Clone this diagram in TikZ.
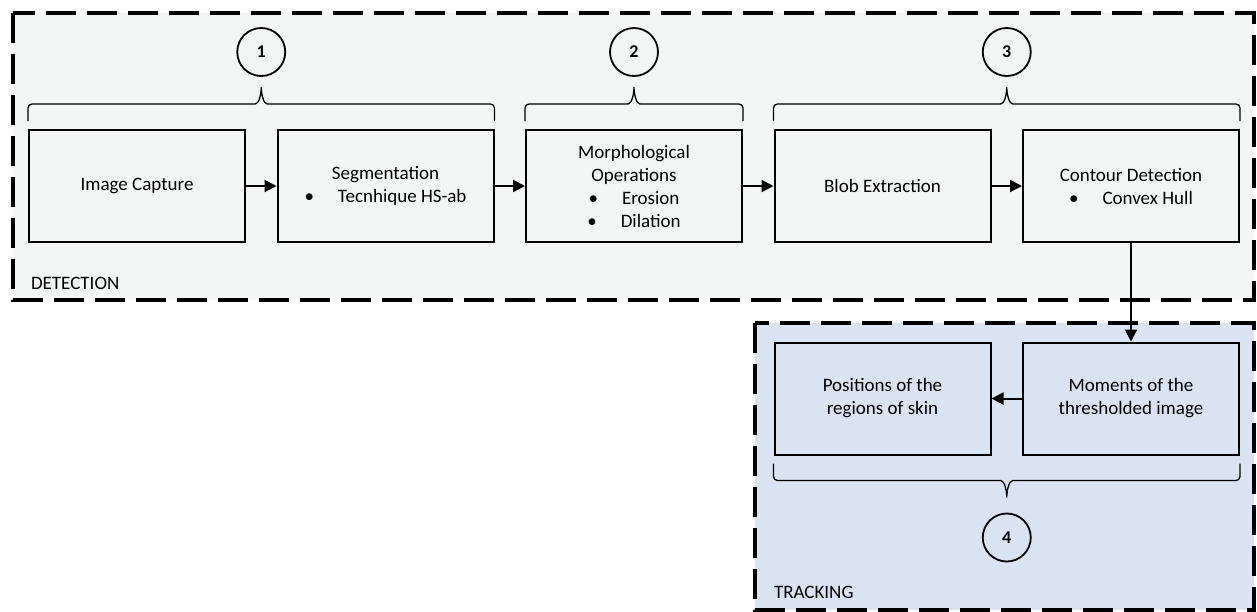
\documentclass[tikz,border=0pt]{standalone}
\usepackage{fontspec}
\setmainfont{Carlito}
\usepackage{tikz}
\usetikzlibrary{arrows.meta,calc}
\definecolor{detfill}{HTML}{F4F6F6}
\definecolor{trackfill}{HTML}{DAE3F2}

% brace over (sign 1) or under (sign -1) two anchors, tip named #4
\newcommand{\phasebrace}[4]{%
  \coordinate (#4) at ($(#1)!0.5!(#2)+(0,#3*42)$);
  \draw[bracestyle] ([yshift=#3*8pt]#1) -- ++(0,#3*13)
    arc[start angle=180,end angle=180-90*#3,radius=4pt]
    -- ($(#1)!0.5!(#2)+(-6,#3*25)$) .. controls +(4,0) and +(0,{-6*#3}) .. (#4)
    .. controls +(0,{-6*#3}) and +(-4,0) .. ($(#1)!0.5!(#2)+(6,#3*25)$)
    -- ($(#2)+(-4,#3*25)$)
    arc[start angle=180-90*#3,end angle=180-180*#3,radius=4pt]
    -- ([yshift=#3*8pt]#2);}

\begin{document}
\begin{tikzpicture}[x=1pt,y=1pt,>={Triangle[length=12pt,width=12pt]},node distance=248.5pt,
                    line width=2pt,font=\fontsize{19}{23}\selectfont]
  \tikzstyle{stage}=[rectangle,draw,line width=2pt,minimum width=216pt,
    minimum height=112pt,align=center,inner sep=2pt]
  \tikzstyle{phase}=[circle,draw,line width=1.8pt,minimum size=48pt,inner sep=0pt,
    font=\fontsize{18}{22}\selectfont\bfseries]
  \tikzstyle{frame} = [line width=3.5pt,dash pattern=on 30pt off 11pt]
  \tikzstyle{bracestyle}=[line width=1.3pt]
  \tikzstyle{tag}=[anchor=west,inner sep=0pt]

  \useasboundingbox (0,0) rectangle (1257,-611);
  \draw[frame,fill=detfill] (13,-13) rectangle (1254,-300);
  \draw[frame,fill=trackfill] (755,-323) rectangle (1254,-610);

  \node[stage] (capture) at (137,-186) {Image Capture};
  \node[stage] (segment) [right of=capture] {Segmentation\\\textbullet\hspace{24pt}Tecnhique HS-ab};
  \node[stage] (morph) [right of=segment] {Morphological\\Operations\\
    \textbullet\hspace{24pt}Erosion\\\textbullet\hspace{24pt}Dilation};
  \node[stage] (blob) [right of=morph] {Blob Extraction};
  \node[stage] (contour) [right of=blob] {Contour Detection\\\textbullet\hspace{24pt}Convex Hull};

  \node[stage] (moments) [below of=contour,node distance=212.5pt] {Moments of the\\thresholded image};
  \node[stage] (skin) [left of=moments] {Positions of the\\regions of skin};

  \draw[->] (capture) -- (segment);
  \draw[->] (segment) -- (morph);
  \draw[->] (morph) -- (blob);
  \draw[->] (blob) -- (contour);
  \draw[->] (contour) -- (moments);
  \draw[->] (moments) -- (skin);

  \phasebrace{capture.north west}{segment.north east}{1}{tip1}
  \phasebrace{morph.north west}{morph.north east}{1}{tip2}
  \phasebrace{blob.north west}{contour.north east}{1}{tip3}
  \phasebrace{skin.south west}{moments.south east}{-1}{tip4}

  \node[phase] (one) [above of=tip1,node distance=35pt] {1};
  \node[phase] (two) [above of=tip2,node distance=35pt] {2};
  \node[phase] (three) [above of=tip3,node distance=35pt] {3};
  \node[phase] (four) [below of=tip4,node distance=40pt] {4};

  \node[tag] (detection) at (30,-283) {DETECTION};
  \node[tag] (tracking) at (773,-592) {TRACKING};
\end{tikzpicture}
\end{document}
